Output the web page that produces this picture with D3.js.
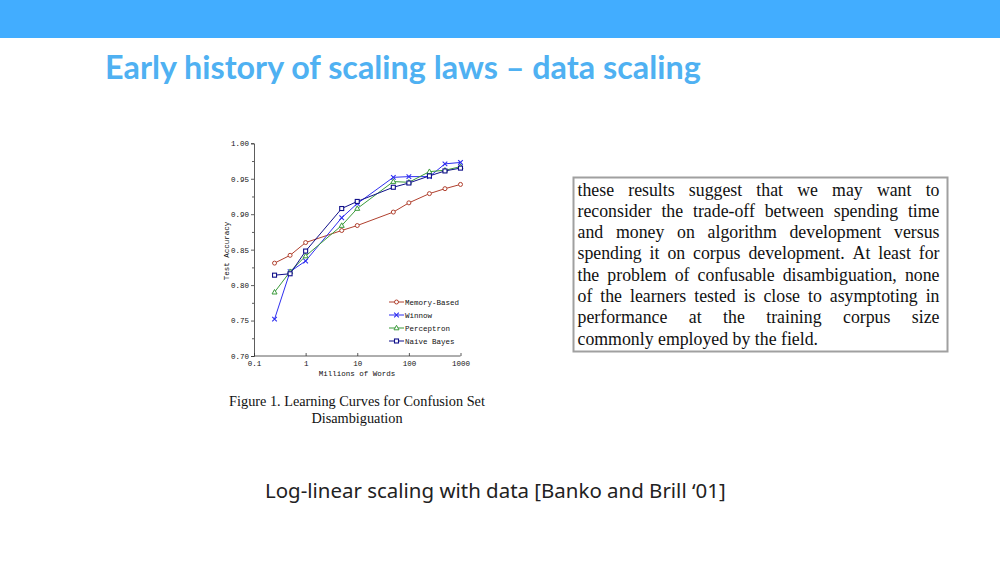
<!DOCTYPE html>
<html><head><meta charset="utf-8">
<script src="https://cdn.jsdelivr.net/npm/d3@7"></script>
<style>body{margin:0;background:#fff}svg{display:block}</style>
</head><body>
<script>
const words = [0.25, 0.5, 1, 5, 10, 50, 100, 250, 500, 1000];
const memoryBased = [0.831, 0.842, 0.860, 0.877, 0.884, 0.903, 0.916, 0.929, 0.936, 0.942];
const winnow      = [0.752, 0.819, 0.834, 0.895, 0.915, 0.952, 0.953, 0.953, 0.971, 0.973];
const perceptron  = [0.790, 0.819, 0.841, 0.884, 0.908, 0.946, 0.945, 0.960, 0.962, 0.967];
const naiveBayes  = [0.814, 0.816, 0.848, 0.908, 0.918, 0.938, 0.944, 0.954, 0.961, 0.965];
const seriesNames = ["Memory-Based", "Winnow", "Perceptron", "Naive Bayes"];
const xTicks = [0.1, 1, 10, 100, 1000];
const yTicks = [0.70, 0.75, 0.80, 0.85, 0.90, 0.95, 1.00];
const yMinor = [0.725, 0.775, 0.825, 0.875, 0.925, 0.975];
const titleText = "Early history of scaling laws – data scaling";
const footerText = "Log-linear scaling with data [Banko and Brill ‘01]";
const captionLines = ["Figure 1. Learning Curves for Confusion Set", "Disambiguation"];
const quoteLines = [
  "these results suggest that we may want to",
  "reconsider the trade-off between spending time",
  "and money on algorithm development versus",
  "spending it on corpus development.  At least for",
  "the problem of confusable disambiguation, none",
  "of the learners tested is close to asymptoting in",
  "performance at the training corpus size",
  "commonly employed by the field."
];

const W = 1000, H = 563;
const svg = d3.select("body").append("svg").attr("width", W).attr("height", H);
svg.append("rect").attr("width", W).attr("height", H).attr("fill", "#fff");
svg.append("rect").attr("x", 0).attr("y", 0).attr("width", W).attr("height", 38).attr("fill", "#42adff");

function fit(sel, target) {
  const l = sel.node().getComputedTextLength();
  const fs = parseFloat(sel.attr("font-size"));
  const nfs = fs * target / l;
  sel.attr("font-size", nfs);
  return nfs;
}

const title = svg.append("text").attr("x", 105).attr("y", 79)
  .attr("font-family", "Lato, 'Open Sans', sans-serif").attr("font-weight", 700)
  .attr("font-size", 30).attr("fill", "#4fb1f2").text(titleText);
fit(title, 596);

const footer = svg.append("text").attr("x", 265).attr("y", 498)
  .attr("font-family", "'Noto Sans', 'Open Sans', sans-serif")
  .attr("font-size", 20).attr("fill", "#222").text(footerText);
fit(footer, 461);

// Chart
const x = d3.scaleLog().domain([0.1, 1000]).range([254, 460.5]);
const y = d3.scaleLinear().domain([0.70, 1.00]).range([356, 143.3]);
const mono = "'Liberation Mono', 'DejaVu Sans Mono', monospace";

const gy = svg.append("g").attr("transform", `translate(${x(0.1)},0)`)
  .call(d3.axisLeft(y).tickValues(yTicks).tickFormat(d3.format(".2f")).tickSize(3).tickPadding(2));
svg.append("g").attr("transform", `translate(${x(0.1)},0)`)
  .call(d3.axisLeft(y).tickValues(yMinor).tickFormat("").tickSize(2).tickSizeOuter(0))
  .call(g => g.select(".domain").remove())
  .selectAll("line").attr("stroke", "#333").attr("stroke-width", 0.8);
const gx = svg.append("g").attr("transform", `translate(0,${y(0.70)})`)
  .call(d3.axisBottom(x).tickValues(xTicks).tickFormat(d => String(d)).tickSize(-3).tickSizeOuter(0).tickPadding(5));
[gy, gx].forEach(g => {
  g.selectAll("text").attr("font-family", mono).attr("font-size", 7.5).attr("fill", "#111");
  g.selectAll("line,path").attr("stroke", "#333").attr("stroke-width", 0.8);
});
gx.select(".domain").attr("d", `M${x(0.1)},0H${x(1000)}`);

svg.append("text").attr("x", 357).attr("y", 376).attr("text-anchor", "middle")
  .attr("font-family", mono).attr("font-size", 7.5).attr("fill", "#111").text("Millions of Words");
svg.append("text").attr("transform", "translate(229,251) rotate(-90)").attr("text-anchor", "middle")
  .attr("font-family", mono).attr("font-size", 7.5).attr("fill", "#111").text("Test Accuracy");

const series = [
  {name: seriesNames[0], vals: memoryBased, color: "#b0402e", mark: "circle"},
  {name: seriesNames[1], vals: winnow, color: "#2f2ff0", mark: "x"},
  {name: seriesNames[2], vals: perceptron, color: "#3a9a3a", mark: "tri"},
  {name: seriesNames[3], vals: naiveBayes, color: "#10108a", mark: "square"}
];
const line = d3.line().x(d => x(d[0])).y(d => y(d[1]));
function marker(g, type, cx, cy, color) {
  if (type === "circle") g.append("circle").attr("cx", cx).attr("cy", cy).attr("r", 2).attr("fill", "#fff").attr("stroke", color).attr("stroke-width", 1);
  else if (type === "x") g.append("path").attr("d", `M${cx-2.3},${cy-2.3}L${cx+2.3},${cy+2.3}M${cx-2.3},${cy+2.3}L${cx+2.3},${cy-2.3}`).attr("stroke", color).attr("stroke-width", 1.1);
  else if (type === "tri") g.append("path").attr("d", `M${cx},${cy-2.7}L${cx+2.5},${cy+1.8}L${cx-2.5},${cy+1.8}Z`).attr("fill", "#fff").attr("stroke", color).attr("stroke-width", 1);
  else g.append("rect").attr("x", cx-2).attr("y", cy-2).attr("width", 4).attr("height", 4).attr("fill", "#fff").attr("stroke", color).attr("stroke-width", 1.1);
}
series.forEach(s => {
  const pts = words.map((w, i) => [w, s.vals[i]]);
  const g = svg.append("g");
  g.append("path").attr("d", line(pts)).attr("fill", "none").attr("stroke", s.color).attr("stroke-width", 1);
  pts.forEach(p => marker(g, s.mark, x(p[0]), y(p[1]), s.color));
});

// Legend
series.forEach((s, i) => {
  const ly = 302 + i * 13;
  const g = svg.append("g");
  g.append("line").attr("x1", 389).attr("x2", 404).attr("y1", ly).attr("y2", ly).attr("stroke", s.color).attr("stroke-width", 1);
  marker(g, s.mark, 396.5, ly, s.color);
  g.append("text").attr("x", 405).attr("y", ly + 2.5).attr("font-family", mono).attr("font-size", 7.5).attr("fill", "#111").text(s.name);
});

// Caption
let capFs = 14;
captionLines.forEach((t, i) => {
  const c = svg.append("text").attr("x", 357).attr("y", 406 + i * 16.5).attr("text-anchor", "middle")
    .attr("font-family", "'Liberation Serif', serif").attr("font-size", capFs).attr("fill", "#111").text(t);
  if (i === 0) capFs = fit(c, 256);
});

// Quote box
svg.append("rect").attr("x", 573.5).attr("y", 177.5).attr("width", 374).attr("height", 174)
  .attr("fill", "#fff").attr("stroke", "#a0a0a0").attr("stroke-width", 2);
const left = 577.5, right = 939.5, fs = 17.8;
quoteLines.forEach((ln, i) => {
  const by = 195.5 + i * 21.3;
  const ws = ln.split(/\s+/);
  const g = svg.append("g");
  const nodes = ws.map(w => g.append("text").attr("y", by).attr("font-family", "'Liberation Serif', serif")
    .attr("font-size", fs).attr("fill", "#111").text(w));
  const widths = nodes.map(n => n.node().getComputedTextLength());
  const total = d3.sum(widths);
  const last = i === quoteLines.length - 1;
  const gap = last ? fs * 0.25 : (right - left - total) / (ws.length - 1);
  let cx = left;
  nodes.forEach((n, k) => { n.attr("x", cx); cx += widths[k] + gap; });
});
</script>
</body></html>
